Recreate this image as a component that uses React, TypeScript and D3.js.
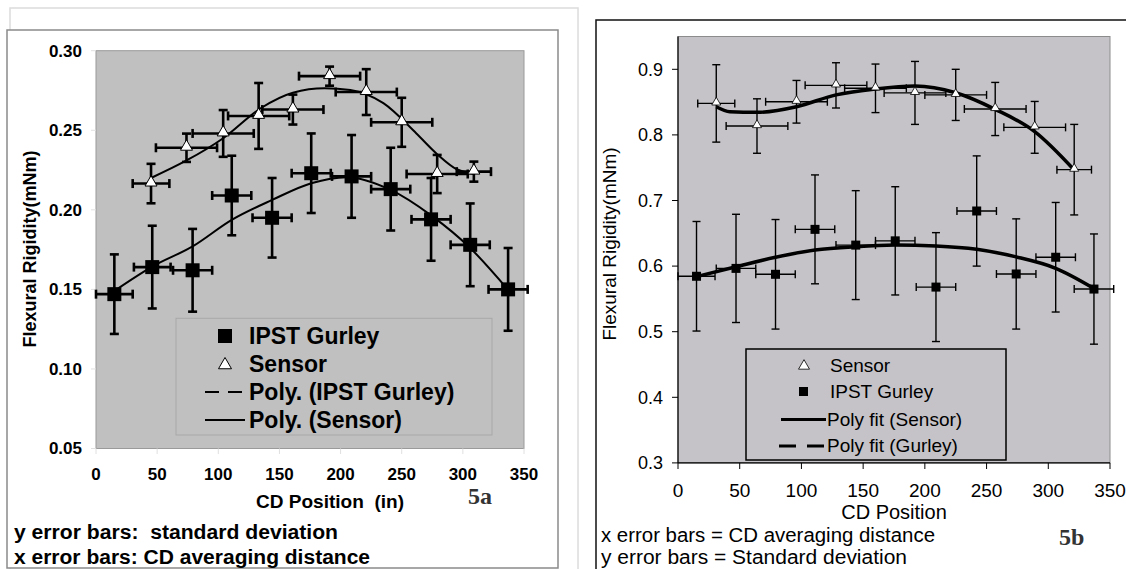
import React from 'react';
import * as d3 from 'd3';

// ---------- figure 5a (left) ----------
const aGurleyX = [15, 46, 79, 111, 144, 176, 209, 241, 274, 306, 337];
const aGurleyY = [0.147, 0.164, 0.162, 0.209, 0.195, 0.223, 0.221, 0.213, 0.194, 0.178, 0.15];
const aGurleySd = [0.025, 0.026, 0.026, 0.025, 0.025, 0.025, 0.026, 0.026, 0.026, 0.026, 0.026];
const aGurleyXErr = [15, 15, 16, 16, 16, 16, 16, 16, 16, 16, 16];

const aSensorX = [45, 74, 104, 133, 161, 191, 221, 250, 279, 309];
const aSensorY = [0.2165, 0.239, 0.248, 0.259, 0.263, 0.284, 0.274, 0.255, 0.2225, 0.224];
const aSensorSd = [0.0124, 0.0089, 0.0147, 0.0207, 0.0094, 0.006, 0.0144, 0.0154, 0.012, 0.0063];
const aSensorXErr = [15, 25, 25, 25, 25, 25, 25, 25, 25, 14];

// trendlines
const aSensorFitX = [45, 74, 104, 135, 161, 187, 208, 235, 262, 279, 295, 309];
const aSensorFitY = [0.22, 0.231, 0.245, 0.264, 0.2736, 0.2764, 0.2753, 0.267, 0.248, 0.235, 0.2255, 0.2225];
const aGurleyFitX = [15, 46, 79, 111, 144, 176, 205, 241, 274, 306, 337];
const aGurleyFitY = [0.149, 0.1643, 0.177, 0.1937, 0.2062, 0.2167, 0.2205, 0.2125, 0.1965, 0.176, 0.1497];

const aYTicks = [0.05, 0.1, 0.15, 0.2, 0.25, 0.3];
const xTicks = [0, 50, 100, 150, 200, 250, 300, 350];

// ---------- figure 5b (right) ----------
const bSensorX = [31, 64, 96, 128, 160, 192, 225, 257, 289, 321];
const bSensorY = [0.848, 0.8135, 0.8505, 0.8755, 0.871, 0.864, 0.861, 0.8395, 0.8115, 0.747];
const bSensorSd = [0.059, 0.0415, 0.0325, 0.0345, 0.037, 0.048, 0.039, 0.0405, 0.0395, 0.069];
const bSensorXErr = [15, 25, 25, 25, 25, 25, 25, 25, 25, 14];

const bGurleyX = [15, 47, 79, 111, 144, 176, 209, 242, 274, 306, 337];
const bGurleyY = [0.5845, 0.5965, 0.5875, 0.656, 0.632, 0.6385, 0.568, 0.684, 0.588, 0.6135, 0.565];
const bGurleySd = [0.0835, 0.0825, 0.0835, 0.083, 0.083, 0.0825, 0.083, 0.084, 0.084, 0.0835, 0.084];
const bGurleyXErr = [15, 16, 16, 16, 16, 16, 16, 16, 16, 16, 16];

const bSensorFitX = [31, 42, 64, 96, 128, 160, 192, 225, 257, 289, 321];
const bSensorFitY = [0.843, 0.8354, 0.8344, 0.843, 0.861, 0.87, 0.8745, 0.8643, 0.839, 0.805, 0.7465];
const bGurleyFitX = [15, 47, 79, 111, 144, 176, 209, 242, 274, 306, 337];
const bGurleyFitY = [0.584, 0.599, 0.6134, 0.6245, 0.6296, 0.632, 0.6306, 0.6256, 0.614, 0.5967, 0.566];

const bYTicks = [0.3, 0.4, 0.5, 0.6, 0.7, 0.8, 0.9];

const FONT = "'Liberation Sans', Arial, sans-serif";
const SERIF = "'Liberation Serif', 'Times New Roman', serif";

const xA = d3.scaleLinear().domain([0, 350]).range([96, 524]);
const yA = d3.scaleLinear().domain([0.05, 0.3]).range([448.5, 50.7]);
const xB = d3.scaleLinear().domain([0, 350]).range([678, 1110]);
const yB = d3.scaleLinear().domain([0.3, 0.95]).range([462.9, 36.5]);

function ErrorBars({ xs, ys, sd, xe, x, y, width, cap }) {
  return (
    <g stroke="#000" strokeWidth={width} fill="none">
      {xs.map((v, i) => {
        const cx = x(v), cy = y(ys[i]);
        const y0 = y(ys[i] - sd[i]), y1 = y(ys[i] + sd[i]);
        const x0 = x(v - xe[i]), x1 = x(v + xe[i]);
        return (
          <g key={i}>
            <line x1={cx} x2={cx} y1={y0} y2={y1} />
            <line x1={cx - cap} x2={cx + cap} y1={y0} y2={y0} />
            <line x1={cx - cap} x2={cx + cap} y1={y1} y2={y1} />
            <line x1={x0} x2={x1} y1={cy} y2={cy} />
            <line x1={x0} x2={x0} y1={cy - cap} y2={cy + cap} />
            <line x1={x1} x2={x1} y1={cy - cap} y2={cy + cap} />
          </g>
        );
      })}
    </g>
  );
}

function Squares({ xs, ys, x, y, size }) {
  return (
    <g fill="#000">
      {xs.map((v, i) => (
        <rect key={i} x={x(v) - size / 2} y={y(ys[i]) - size / 2} width={size} height={size} />
      ))}
    </g>
  );
}

function Triangles({ xs, ys, x, y, w, sw }) {
  const tri = d3.symbol(d3.symbolTriangle, (Math.sqrt(3) / 4) * w * w)();
  return (
    <g fill="#fff" stroke="#000" strokeWidth={sw}>
      {xs.map((v, i) => (
        <path key={i} d={tri} transform={`translate(${x(v)},${y(ys[i]) - 1})`} />
      ))}
    </g>
  );
}

function fitPath(xs, ys, x, y) {
  return d3.line<number>()
    .x((_, i) => x(xs[i]))
    .y((d) => y(d))
    .curve(d3.curveMonotoneX)(ys);
}

function PanelA() {
  const tri = d3.symbol(d3.symbolTriangle, (Math.sqrt(3) / 4) * 13 * 13)();
  return (
    <g fontFamily={FONT} fontWeight="bold">
      <rect x={10} y={8} width={568} height={575} fill="#fff" stroke="#dcdcdc" strokeWidth={1.5} />
      <rect x={7} y={30} width={551} height={538} fill="#fff" stroke="#8a8a8a" strokeWidth={1.5} />
      <rect x={96} y={50.7} width={428} height={397.8} fill="#c0c0c0" stroke="#9a9a9a" strokeWidth={1} />
      {aYTicks.map((t) => (
        <g key={t}>
          <line x1={91} x2={96} y1={yA(t)} y2={yA(t)} stroke="#e0e0e0" />
          <text x={82} y={yA(t)} dy="0.35em" textAnchor="end" fontSize={17}>{t.toFixed(2)}</text>
        </g>
      ))}
      {xTicks.map((t) => (
        <g key={t}>
          <line x1={xA(t)} x2={xA(t)} y1={448.5} y2={454} stroke="#e0e0e0" />
          <text x={xA(t)} y={480} textAnchor="middle" fontSize={17}>{t}</text>
        </g>
      ))}
      <text transform="translate(36,249) rotate(-90)" textAnchor="middle" fontSize={18}>Flexural Rigidity(mNm)</text>
      <text x={256} y={508} fontSize={19} textLength={148} lengthAdjust="spacingAndGlyphs" xmlSpace="preserve">CD Position  (in)</text>
      <text x={14} y={539} fontSize={20} textLength={324} lengthAdjust="spacingAndGlyphs" xmlSpace="preserve">y error bars:  standard deviation</text>
      <text x={14} y={564} fontSize={20} textLength={356} lengthAdjust="spacingAndGlyphs">x error bars: CD averaging distance</text>
      <text x={468} y={504} fontSize={24} fontFamily={SERIF} fill="#333">5a</text>

      <path d={fitPath(aGurleyFitX, aGurleyFitY, xA, yA)} fill="none" stroke="#000" strokeWidth={2} />
      <path d={fitPath(aSensorFitX, aSensorFitY, xA, yA)} fill="none" stroke="#000" strokeWidth={2} />
      <ErrorBars xs={aGurleyX} ys={aGurleyY} sd={aGurleySd} xe={aGurleyXErr} x={xA} y={yA} width={2.6} cap={4.5} />
      <ErrorBars xs={aSensorX} ys={aSensorY} sd={aSensorSd} xe={aSensorXErr} x={xA} y={yA} width={2.6} cap={4.5} />
      <Squares xs={aGurleyX} ys={aGurleyY} x={xA} y={yA} size={14} />
      <Triangles xs={aSensorX} ys={aSensorY} x={xA} y={yA} w={12} sw={1} />

      <rect x={176} y={318.3} width={316} height={116.7} fill="#c0c0c0" stroke="#a8a8a8" strokeWidth={1} />
      <rect x={218} y={329} width={14} height={14} fill="#000" />
      <path d={tri} transform="translate(225,365)" fill="#fff" stroke="#000" strokeWidth={1} />
      <line x1={205} x2={245} y1={392} y2={392} stroke="#000" strokeWidth={2} strokeDasharray="14 9" />
      <line x1={205} x2={245} y1={420} y2={420} stroke="#000" strokeWidth={2} />
      <g fontSize={23}>
        <text x={249} y={344}>IPST Gurley</text>
        <text x={249} y={372}>Sensor</text>
        <text x={249} y={400}>Poly. (IPST Gurley)</text>
        <text x={249} y={428}>Poly. (Sensor)</text>
      </g>
    </g>
  );
}

function PanelB() {
  const tri = d3.symbol(d3.symbolTriangle, (Math.sqrt(3) / 4) * 11 * 11)();
  return (
    <g fontFamily={FONT}>
      <rect x={596} y={20} width={560} height={580} fill="#fff" stroke="#111" strokeWidth={1.5} />
      <rect x={678} y={36.5} width={432} height={426.4} fill="#c5c3c7" stroke="#8c8c8c" strokeWidth={1} />
      <line x1={678} x2={678} y1={36.5} y2={462.9} stroke="#000" strokeWidth={1.2} />
      <line x1={678} x2={1110} y1={462.9} y2={462.9} stroke="#000" strokeWidth={1.2} />
      {bYTicks.map((t) => (
        <g key={t}>
          <line x1={672} x2={678} y1={yB(t)} y2={yB(t)} stroke="#000" />
          <text x={663} y={yB(t)} dy="0.35em" textAnchor="end" fontSize={18}>{t.toFixed(1)}</text>
        </g>
      ))}
      {xTicks.map((t) => (
        <g key={t}>
          <line x1={xB(t)} x2={xB(t)} y1={462.9} y2={469} stroke="#000" />
          <text x={xB(t)} y={497} textAnchor="middle" fontSize={19}>{t}</text>
        </g>
      ))}
      <text transform="translate(616,244) rotate(-90)" textAnchor="middle" fontSize={19}>Flexural Rigidity(mNm)</text>
      <text x={894} y={519} textAnchor="middle" fontSize={20}>CD Position</text>
      <text x={601} y={542} fontSize={20} textLength={334} lengthAdjust="spacingAndGlyphs">x error bars = CD averaging distance</text>
      <text x={601} y={564} fontSize={20} textLength={306} lengthAdjust="spacingAndGlyphs">y error bars = Standard deviation</text>
      <text x={1059} y={545} fontSize={24} fontWeight="bold" fontFamily={SERIF} fill="#333">5b</text>

      <path d={fitPath(bSensorFitX, bSensorFitY, xB, yB)} fill="none" stroke="#000" strokeWidth={3.5} />
      <path d={fitPath(bGurleyFitX, bGurleyFitY, xB, yB)} fill="none" stroke="#000" strokeWidth={3.5} />
      <ErrorBars xs={bGurleyX} ys={bGurleyY} sd={bGurleySd} xe={bGurleyXErr} x={xB} y={yB} width={1.4} cap={4} />
      <ErrorBars xs={bSensorX} ys={bSensorY} sd={bSensorSd} xe={bSensorXErr} x={xB} y={yB} width={1.4} cap={4} />
      <Squares xs={bGurleyX} ys={bGurleyY} x={xB} y={yB} size={9} />
      <Triangles xs={bSensorX} ys={bSensorY} x={xB} y={yB} w={9} sw={0.8} />

      <rect x={746} y={349} width={260} height={111} fill="#c5c3c7" stroke="#000" strokeWidth={1.5} />
      <path d={tri} transform="translate(804,366)" fill="#fff" stroke="#000" strokeWidth={0.8} />
      <rect x={799} y={387} width={9} height={9} fill="#000" />
      <line x1={781} x2={826} y1={419.5} y2={419.5} stroke="#000" strokeWidth={3} />
      <line x1={779} x2={826} y1={446} y2={446} stroke="#000" strokeWidth={3} strokeDasharray="17 11" />
      <g fontSize={19}>
        <text x={830} y={372}>Sensor</text>
        <text x={830} y={398}>IPST Gurley</text>
        <text x={827} y={426}>Poly fit (Sensor)</text>
        <text x={827} y={452}>Poly fit (Gurley)</text>
      </g>
    </g>
  );
}

export default function App() {
  return (
    <svg width={1126} height={569} style={{ position: 'absolute', left: 0, top: 0, background: '#fff' }}>
      <PanelA />
      <PanelB />
    </svg>
  );
}
